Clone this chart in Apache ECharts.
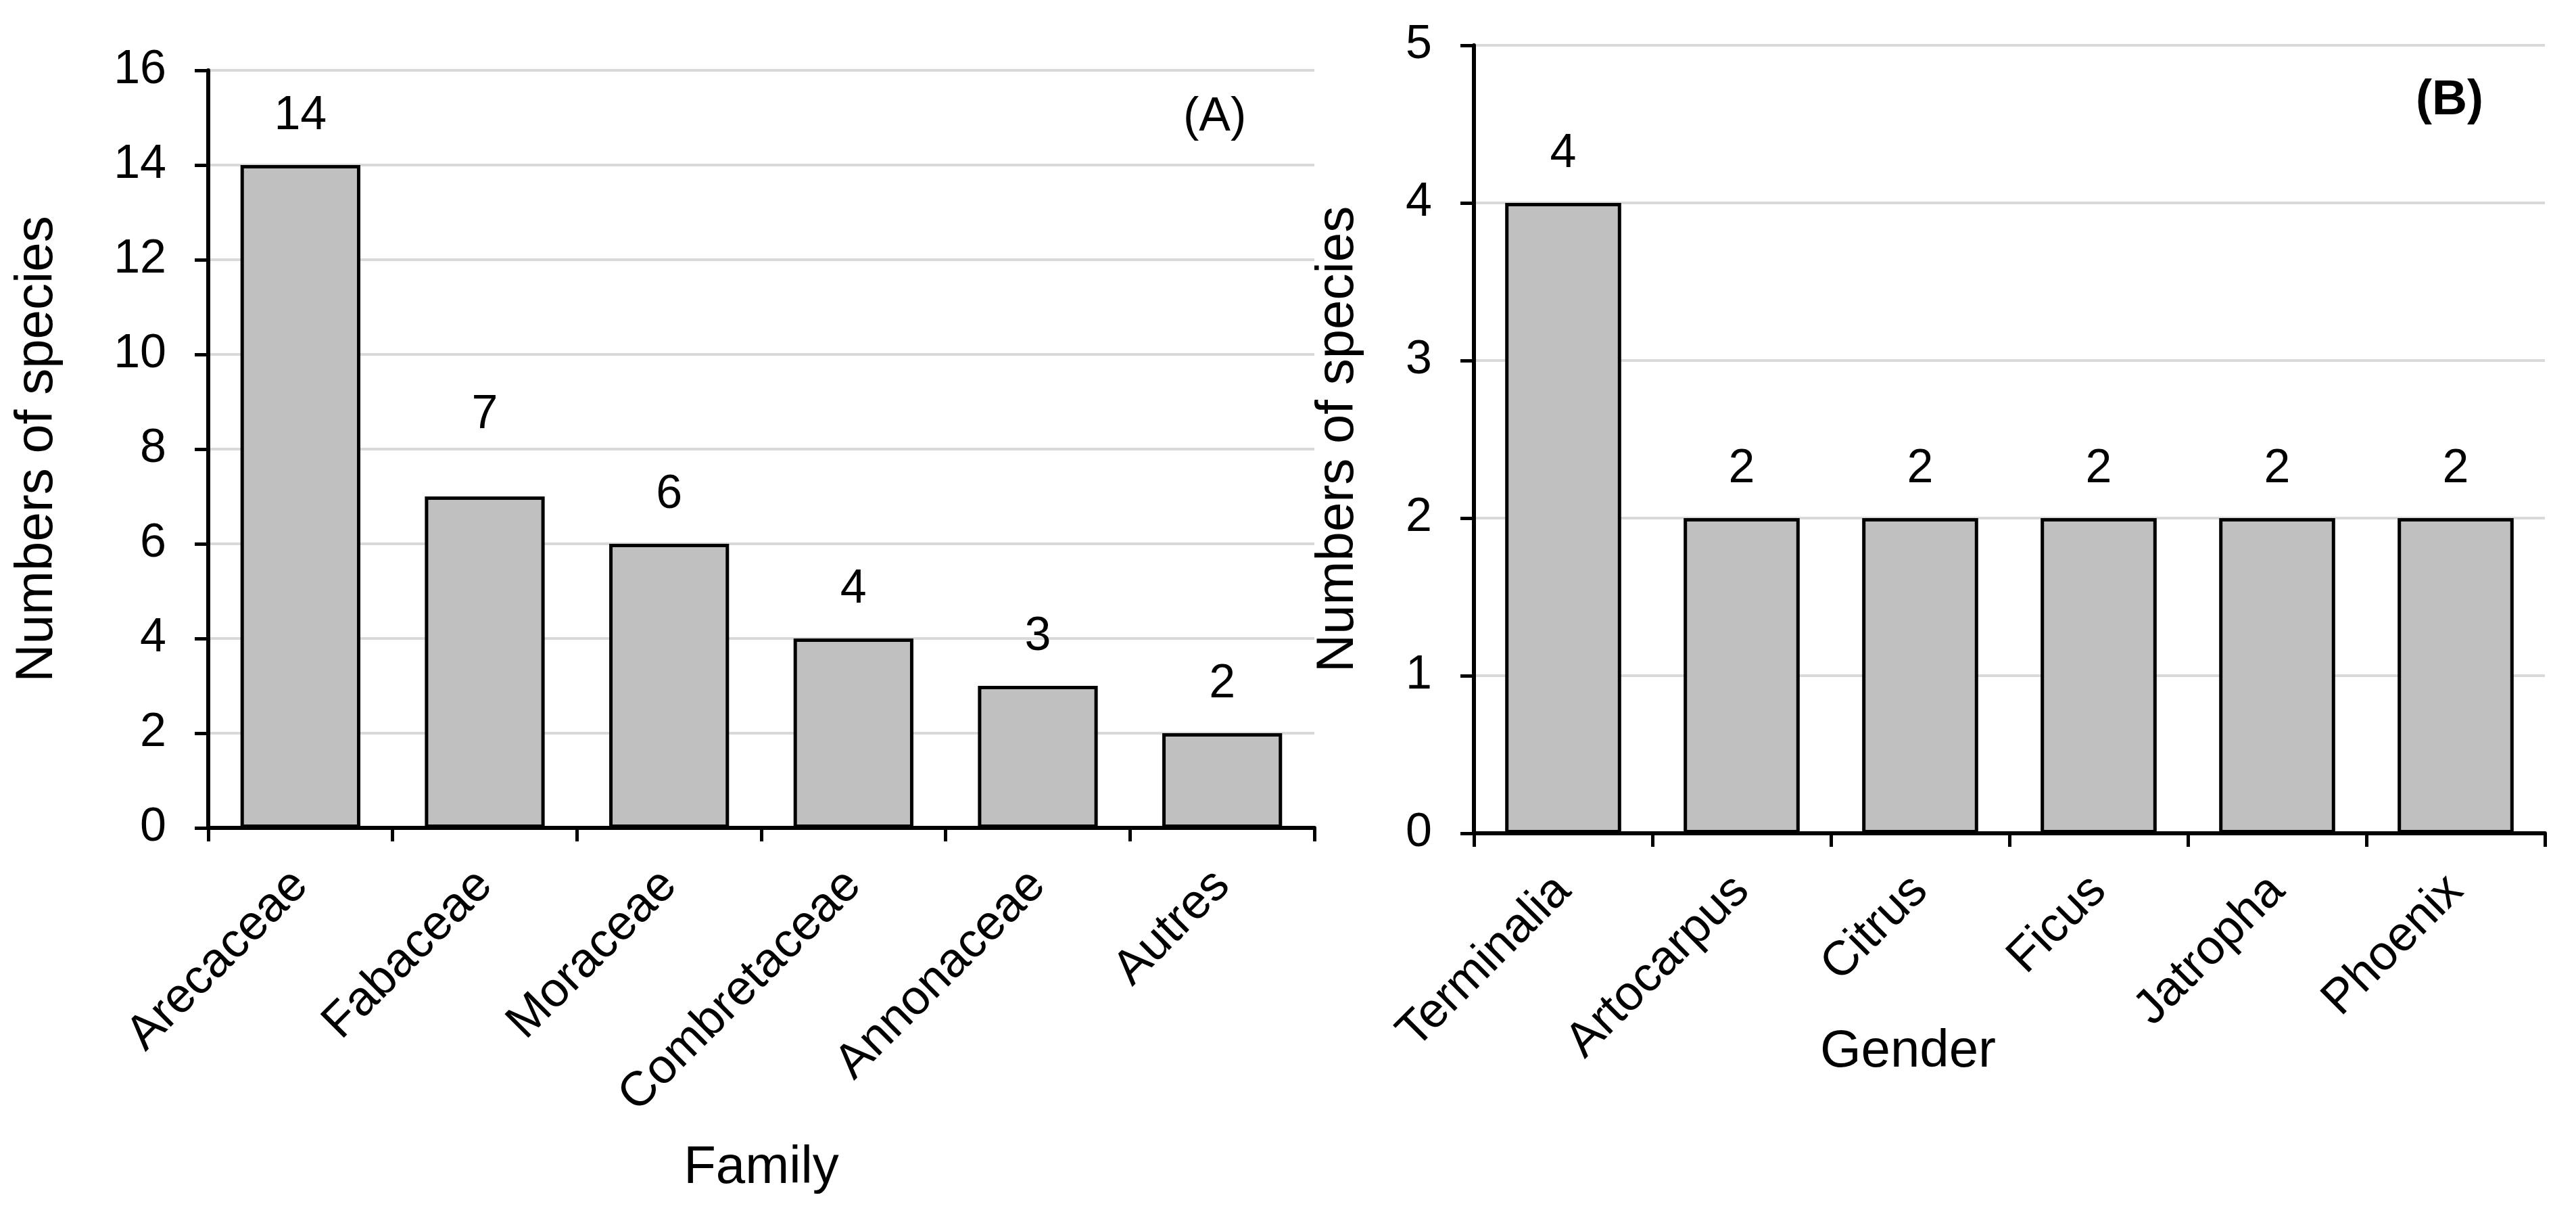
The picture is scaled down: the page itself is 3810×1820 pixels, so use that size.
<!DOCTYPE html>
<html>
<head>
<meta charset="utf-8">
<script src="https://cdn.jsdelivr.net/npm/echarts@6/dist/echarts.min.js"></script>
<style>
html,body{margin:0;padding:0;background:#fff;}
#chart{width:3810px;height:1820px;}
</style>
</head>
<body>
<div id="chart"></div>
<script>
const familyCategories = ['Arecaceae', 'Fabaceae', 'Moraceae', 'Combretaceae', 'Annonaceae', 'Autres'];
const familyValues = [14, 7, 6, 4, 3, 2];
const genderCategories = ['Terminalia', 'Artocarpus', 'Citrus', 'Ficus', 'Jatropha', 'Phoenix'];
const genderValues = [4, 2, 2, 2, 2, 2];
const yTitle = 'Numbers of species';
const xTitleA = 'Family';
const xTitleB = 'Gender';
const panelA = '(A)';
const panelB = '(B)';

const FONT = 'Liberation Sans, Arial, sans-serif';
const chart = echarts.init(document.getElementById('chart'));

function xAxisCfg(idx, cats, name, gap, pad) {
  return {
    type: 'category', gridIndex: idx, data: cats,
    name: name, nameLocation: 'middle', nameGap: gap, nameMoveOverlap: false,
    nameTextStyle: { fontFamily: FONT, fontSize: 78, color: '#000', padding: pad, verticalAlign: 'top' },
    axisLine: { show: true, lineStyle: { color: '#000', width: 6 } },
    axisTick: { show: true, length: 20, lineStyle: { color: '#000', width: 5 } },
    axisLabel: { rotate: 45, margin: 74, fontFamily: FONT, fontSize: 72, color: '#000', interval: 0 },
    splitLine: { show: false }
  };
}
function yAxisCfg(idx, max, interval, gap) {
  return {
    type: 'value', gridIndex: idx, min: 0, max: max, interval: interval,
    name: yTitle, nameLocation: 'middle', nameGap: gap, nameRotate: 90, nameMoveOverlap: false,
    nameTextStyle: { fontFamily: FONT, fontSize: 78, color: '#000' },
    axisLine: { show: true, lineStyle: { color: '#000', width: 6 } },
    axisTick: { show: true, length: 20, lineStyle: { color: '#000', width: 5 } },
    axisLabel: { margin: 62, fontFamily: FONT, fontSize: 70, color: '#000' },
    splitLine: { show: true, lineStyle: { color: '#d9d9d9', width: 4 } }
  };
}
function seriesCfg(idx, vals, raisedIndex) {
  return {
    type: 'bar', xAxisIndex: idx, yAxisIndex: idx,
    data: vals.map((v, i) => i === raisedIndex ? { value: v, label: { distance: 85 } } : v),
    barCategoryGap: '35%',
    itemStyle: { color: '#c0c0c0', borderColor: '#000', borderWidth: 5 },
    label: { show: true, position: 'top', distance: 37, fontFamily: FONT, fontSize: 70, color: '#000' },
    emphasis: { disabled: true }
  };
}

chart.setOption({
  backgroundColor: '#fff',
  animation: false,
  grid: [
    { left: 308, top: 104, width: 1636, height: 1120 },
    { left: 2180, top: 67, width: 1584, height: 1165 }
  ],
  xAxis: [
    xAxisCfg(0, familyCategories, xTitleA, 464, [0, 0, 0, 0]),
    xAxisCfg(1, genderCategories, xTitleB, 284, [0, 300, 0, 0])
  ],
  yAxis: [
    yAxisCfg(0, 16, 2, 214),
    yAxisCfg(1, 5, 1, 162)
  ],
  series: [seriesCfg(0, familyValues, 1), seriesCfg(1, genderValues, -1)],
  graphic: [
    { type: 'text', left: 1808 - 58, top: 167 - 28, style: { text: panelA, fontFamily: FONT, fontSize: 70, fill: '#000' } },
    { type: 'text', left: 3633 - 60, top: 153 - 40, style: { text: panelB, fontFamily: FONT, fontSize: 72, fontWeight: 'bold', fill: '#000' } }
  ]
});
</script>
</body>
</html>
